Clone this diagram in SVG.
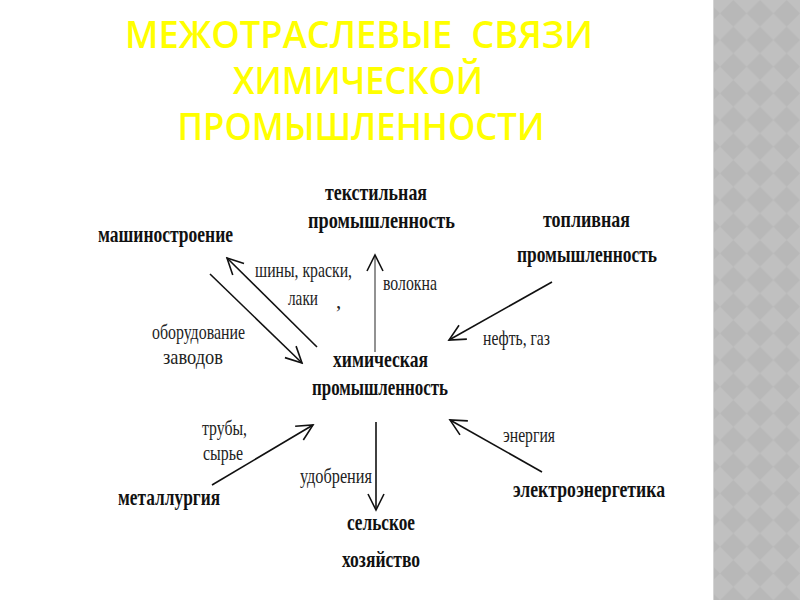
<svg xmlns="http://www.w3.org/2000/svg" width="800" height="600" viewBox="0 0 800 600">
<style>
.title{font-family:"Open Sans","DejaVu Sans",sans-serif;font-size:37px;font-weight:600;fill:#ffff00;text-anchor:middle;white-space:pre}
.node{font-family:"Liberation Serif","Times New Roman",serif;font-size:24px;font-weight:bold;fill:#111}
.lbl{font-family:"Liberation Serif","Times New Roman",serif;font-size:21px;fill:#222}
.arr{fill:none;stroke:#111;stroke-width:1.6;marker-end:url(#head)}
</style>
<defs>
<marker id="head" viewBox="-18 -10 20 20" refX="0" refY="0" markerWidth="20" markerHeight="20" markerUnits="userSpaceOnUse" orient="auto">
<path d="M-16,-8 L0,0 L-16,8" fill="none" stroke="#111" stroke-width="1.6"/>
</marker>
<pattern id="diam" patternUnits="userSpaceOnUse" x="720" y="0" width="26.67" height="26.67">
<rect width="26.67" height="26.67" fill="#c0c0c0"/>
<polygon points="13.33,0 26.67,13.33 13.33,26.67 0,13.33" fill="#b8b8b8"/>
</pattern>
</defs>
<rect width="800" height="600" fill="#ffffff"/>
<rect x="713" y="0" width="87" height="600" fill="url(#diam)"/>
<rect x="713" y="0" width="1" height="600" fill="#d4d4d4"/>
<g id="title">
<text class="title" x="359" y="48" textLength="468" lengthAdjust="spacingAndGlyphs" xml:space="preserve">МЕЖОТРАСЛЕВЫЕ  СВЯЗИ</text>
<text class="title" x="358" y="94" textLength="250" lengthAdjust="spacingAndGlyphs">ХИМИЧЕСКОЙ</text>
<text class="title" x="361" y="140" textLength="367" lengthAdjust="spacingAndGlyphs">ПРОМЫШЛЕННОСТИ</text>
</g>
<g id="connectors">
<path class="arr" d="M317,347 L227,258"/>
<path class="arr" d="M210,274 L302,363"/>
<path class="arr" d="M375,352 L375,255" style="stroke:#777"/>
<path class="arr" d="M552,282 L449,340"/>
<path class="arr" d="M212,485 L313,425"/>
<path class="arr" d="M376,422 L376,510"/>
<path class="arr" d="M542,472 L450,420"/>
</g>
<g id="labels">
<text class="lbl" x="255" y="277" textLength="97" lengthAdjust="spacingAndGlyphs">шины, краски,</text>
<text class="lbl" x="288" y="305" textLength="30" lengthAdjust="spacingAndGlyphs">лаки</text>
<text class="lbl" x="336" y="308">,</text>
<text class="lbl" x="383" y="290" textLength="54" lengthAdjust="spacingAndGlyphs">волокна</text>
<text class="lbl" x="152" y="339" textLength="93" lengthAdjust="spacingAndGlyphs">оборудование</text>
<text class="lbl" x="163" y="364" textLength="60" lengthAdjust="spacingAndGlyphs">заводов</text>
<text class="lbl" x="483" y="345" textLength="67" lengthAdjust="spacingAndGlyphs">нефть, газ</text>
<text class="lbl" x="202" y="435" textLength="45" lengthAdjust="spacingAndGlyphs">трубы,</text>
<text class="lbl" x="203" y="460" textLength="40" lengthAdjust="spacingAndGlyphs">сырье</text>
<text class="lbl" x="300" y="483" textLength="72" lengthAdjust="spacingAndGlyphs">удобрения</text>
<text class="lbl" x="503" y="442" textLength="52" lengthAdjust="spacingAndGlyphs">энергия</text>
</g>
<g id="mashinostroenie">
<text class="node" x="98" y="242" textLength="135" lengthAdjust="spacingAndGlyphs">машиностроение</text>
</g>
<g id="tekstilnaya">
<text class="node" x="325" y="200" textLength="102" lengthAdjust="spacingAndGlyphs">текстильная</text>
<text class="node" x="308" y="228" textLength="147" lengthAdjust="spacingAndGlyphs">промышленность</text>
</g>
<g id="toplivnaya">
<text class="node" x="543" y="227" textLength="87" lengthAdjust="spacingAndGlyphs">топливная</text>
<text class="node" x="517" y="262" textLength="140" lengthAdjust="spacingAndGlyphs">промышленность</text>
</g>
<g id="himicheskaya">
<text class="node" x="333" y="367" textLength="95" lengthAdjust="spacingAndGlyphs">химическая</text>
<text class="node" x="312" y="395" textLength="136" lengthAdjust="spacingAndGlyphs">промышленность</text>
</g>
<g id="metallurgiya">
<text class="node" x="118" y="505" textLength="102" lengthAdjust="spacingAndGlyphs">металлургия</text>
</g>
<g id="elektroenergetika">
<text class="node" x="513" y="497" textLength="152" lengthAdjust="spacingAndGlyphs">электроэнергетика</text>
</g>
<g id="selskoe">
<text class="node" x="347" y="530" textLength="68" lengthAdjust="spacingAndGlyphs">сельское</text>
<text class="node" x="342" y="567" textLength="78" lengthAdjust="spacingAndGlyphs">хозяйство</text>
</g>
</svg>
